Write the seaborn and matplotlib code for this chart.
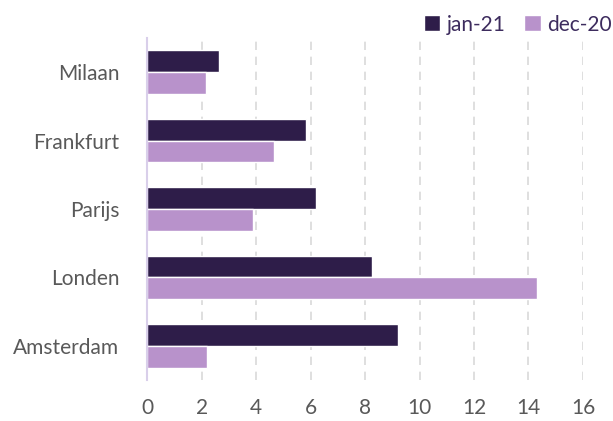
import pandas as pd
import matplotlib.pyplot as plt
import seaborn as sns

# === Data ===
steden = ["Milaan", "Frankfurt", "Parijs", "Londen", "Amsterdam"]
jan_21 = [2.65, 5.85, 6.2, 8.25, 9.2]
dec_20 = [2.15, 4.65, 3.9, 14.3, 2.2]
reeksen = ["jan-21", "dec-20"]

df = pd.DataFrame({
    "stad": steden * 2,
    "waarde": jan_21 + dec_20,
    "periode": [reeksen[0]] * len(steden) + [reeksen[1]] * len(steden),
})

sns.set_style("white")
plt.rcParams["font.family"] = ["Lato", "DejaVu Sans"]

fig = plt.figure(figsize=(6.13, 4.21), dpi=100)
ax = fig.add_axes([0.24, 0.097, 0.711, 0.813])

sns.barplot(data=df, y="stad", x="waarde", hue="periode", orient="h",
            palette=["#2E1D49", "#B892CB"], width=0.64, ax=ax,
            saturation=1, errorbar=None)

ax.set_xlim(0, 16)
ax.set_ylim(4.5, -0.5)
ax.set_xticks(range(0, 17, 2))
ax.grid(axis="x", color="#D9D9D9", linestyle=(0, (5, 4)), linewidth=1.2)
ax.set_axisbelow(True)
for s in ["top", "right", "bottom"]:
    ax.spines[s].set_visible(False)
ax.spines["left"].set_color("#D9CFEA")
ax.spines["left"].set_linewidth(1.5)
ax.set_xlabel("")
ax.set_ylabel("")
ax.tick_params(axis="both", length=0, labelsize=15, labelcolor="#595959")
ax.tick_params(axis="x", pad=13)
ax.tick_params(axis="y", pad=20)

leg = ax.legend(loc="lower right", bbox_to_anchor=(1.085, 0.985), ncol=2, frameon=False,
                fontsize=15, handlelength=0.8, handleheight=0.8,
                handletextpad=0.3, columnspacing=0.9, borderaxespad=0)
for t in leg.get_texts():
    t.set_color("#3D2C5E")

fig.savefig("out.png", dpi=100)
